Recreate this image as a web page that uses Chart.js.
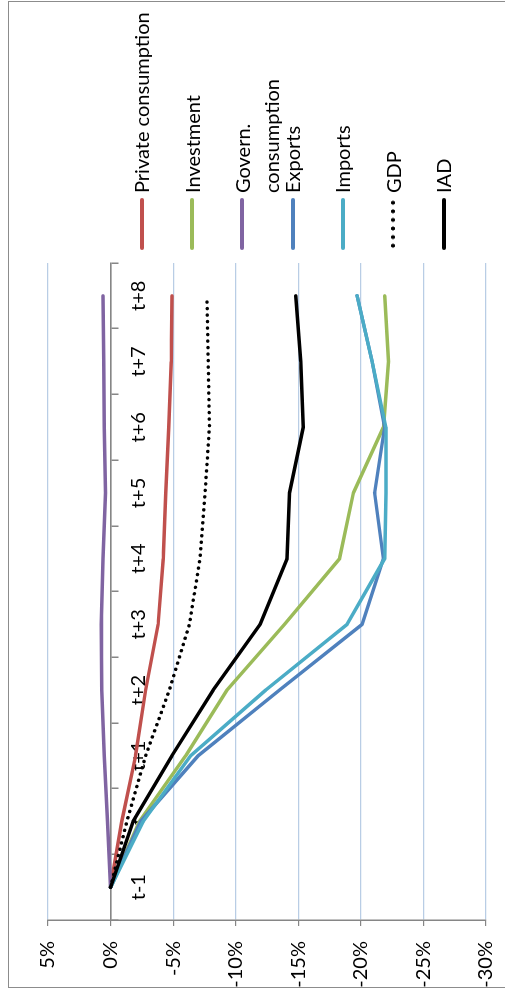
<!DOCTYPE html>
<html>
<head>
<meta charset="utf-8">
<title>Demand components</title>
<script src="https://cdn.jsdelivr.net/npm/chart.js@4"></script>
<style>
  body { margin: 0; background: #fff; overflow: hidden; }
  /* the chart is laid out sideways and turned a quarter turn */
  #frame { position: absolute; left: 0; top: 0; width: 995px; height: 505px;
           transform-origin: 0 0; transform: translate(0, 995px) rotate(-90deg);
           font-family: Lato, sans-serif; }
  #box { position: absolute; left: 7px; top: 8px; width: 985px; height: 500px;
         border: 1px solid #8c8c8c; border-bottom: none; }
  #chart { position: absolute; left: 0; top: 0; }
  .item { position: absolute; left: 745px; height: 0; }
  .swatch { position: absolute; left: 0; top: -2px; width: 52px; height: 4px; border-radius: 2px; }
  .swatch.dots { background: radial-gradient(circle, #000 1.7px, transparent 2.2px) 0 0 / 8.6px 4px repeat-x; }
  .label { position: absolute; left: 57px; top: -14.5px; font-size: 20px; line-height: 29px;
           white-space: nowrap; color: #000; }
</style>
</head>
<body>
<div id="frame">
  <div id="box"></div>
  <canvas id="chart" width="995" height="505"></canvas>
  <div id="legend"></div>
</div>
<script>
const categories = ['t-1', 't', 't+1', 't+2', 't+3', 't+4', 't+5', 't+6', 't+7', 't+8'];
const valueTicks = [5, 0, -5, -10, -15, -20, -25, -30];

const privateConsumption = [0, -0.9, -2.0, -2.8, -3.8, -4.2, -4.4, -4.65, -4.85, -4.9];
const investment         = [0, -2.3, -6.0, -9.3, -13.9, -18.3, -19.4, -21.8, -22.2, -21.9];
const governConsumption  = [0, 0.25, 0.5, 0.7, 0.75, 0.6, 0.4, 0.5, 0.55, 0.6];
const exportsSeries      = [0, -2.4, -7.0, -13.5, -20.1, -21.8, -21.1, -21.9, -20.9, -19.7];
const importsSeries      = [0, -2.6, -6.4, -12.4, -18.9, -21.9, -22.0, -22.0, -20.9, -19.7];
const gdp                = [0, -1.3, -2.8, -4.7, -6.3, -7.15, -7.55, -7.9, -7.8, -7.7];
const iad                = [0, -1.8, -4.9, -8.2, -11.95, -14.1, -14.3, -15.4, -15.2, -14.8];

const seriesNames = ['Private consumption', 'Investment', 'Govern.\nconsumption', 'Exports', 'Imports', 'GDP', 'IAD'];
const seriesData = [privateConsumption, investment, governConsumption, exportsSeries, importsSeries, gdp, iad];
const seriesColors = ['#c0504d', '#9bbb59', '#8064a2', '#4f81bd', '#4bacc6', '#000000', '#000000'];

const axisGray = '#868686';
const gridBlue = '#b9cde5';
const font = { family: 'Lato', size: 20 };

const datasets = seriesNames.map((name, i) => ({
  label: name,
  data: seriesData[i],
  borderColor: seriesColors[i],
  backgroundColor: seriesColors[i],
  borderWidth: 3.5,
  borderCapStyle: 'round',
  borderJoinStyle: 'round',
  borderDash: name === 'GDP' ? [0.1, 6.4] : [],
  pointRadius: 0,
  tension: 0,
  order: seriesNames.length - i
}));

new Chart(document.getElementById('chart'), {
  type: 'line',
  data: { labels: categories, datasets: datasets },
  options: {
    responsive: false,
    animation: false,
    layout: { padding: { top: 48, right: 263, bottom: 19, left: 0 } },
    plugins: { legend: { display: false }, tooltip: { enabled: false } },
    scales: {
      x: {
        type: 'category',
        position: { y: 0 },
        offset: true,
        grid: { offset: true, drawOnChartArea: false, tickLength: 7, color: axisGray, lineWidth: 1.5 },
        border: { display: true, color: axisGray, width: 1.5 },
        ticks: { autoSkip: false, maxRotation: 0, padding: 9, color: '#000', font: font }
      },
      y: {
        min: -30,
        max: 5,
        afterBuildTicks: s => { s.ticks = valueTicks.map(v => ({ value: v })); },
        // fixed axis width, and don't let tick padding eat into the plot height
        afterFit: s => { s.width = 75; s.paddingTop = 0; s.paddingBottom = 0; },
        grid: {
          color: c => c.tick && c.tick.value === 0 ? axisGray : gridBlue,
          tickColor: axisGray,
          tickLength: 6,
          lineWidth: 1.2
        },
        border: { display: true, color: axisGray, width: 1.5 },
        ticks: { padding: 15, color: '#000', font: font, callback: v => v + '%' }
      }
    }
  }
});

// legend, one row per series
const legend = document.getElementById('legend');
seriesNames.forEach((name, i) => {
  const item = document.createElement('div');
  item.className = 'item';
  item.style.top = (141.7 + i * 50.3) + 'px';
  const swatch = document.createElement('div');
  swatch.className = name === 'GDP' ? 'swatch dots' : 'swatch';
  if (name !== 'GDP') swatch.style.background = seriesColors[i];
  const label = document.createElement('div');
  label.className = 'label';
  label.innerHTML = name.split('\n').join('<br>');
  item.appendChild(swatch);
  item.appendChild(label);
  legend.appendChild(item);
});
</script>
</body>
</html>
